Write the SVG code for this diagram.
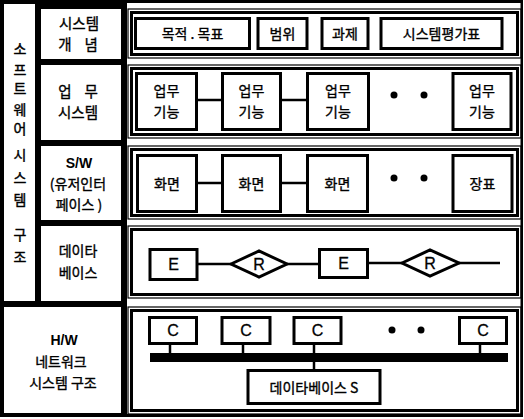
<svg xmlns="http://www.w3.org/2000/svg" width="524" height="419" viewBox="0 0 524 419">
<style>
.cell{fill:#fff}
.ob{fill:none;stroke:#000;stroke-width:1.2}
.ib{fill:none;stroke:#000;stroke-width:3}
.bx{fill:#fff;stroke:#000;stroke-width:3}
.ln{stroke:#000;stroke-width:2.5;fill:none}
.t{font-family:"Noto Sans CJK KR","Noto Sans",sans-serif;font-size:14px;fill:#000;stroke:#000;stroke-width:0.35;text-anchor:middle}
.lb{font-size:14.5px}
.v{font-family:"Noto Sans CJK KR","Noto Sans",sans-serif;font-size:14px;fill:#000;stroke:#000;stroke-width:0.4;text-anchor:middle}
.e{font-family:"Liberation Sans",Arial,sans-serif;font-size:16px;fill:#000;stroke:#000;stroke-width:0.3;text-anchor:middle}
.b{font-family:"Liberation Sans","Noto Sans CJK KR",sans-serif;font-size:14px;font-weight:bold;fill:#000;text-anchor:middle}
</style>
<rect width="524" height="419" fill="#fff"/>
<g id="frame">
<rect x="0" y="0" width="127" height="417" fill="#000"/>
<rect class="cell" x="4" y="4" width="31" height="297"/>
<rect class="cell" x="41" y="9" width="80" height="50"/>
<rect class="cell" x="41" y="65" width="80" height="75"/>
<rect class="cell" x="41" y="146" width="80" height="74"/>
<rect class="cell" x="41" y="226" width="80" height="75"/>
<rect class="cell" x="4" y="307" width="117" height="106"/>
<rect x="126" y="0" width="397" height="3" fill="#000"/>
<rect x="126" y="414" width="397" height="3" fill="#000"/>
<rect x="520.5" y="0" width="2.5" height="417" fill="#000"/>
</g>
<g id="side-label">
<text class="v" x="20" y="54">소</text>
<text class="v" x="20" y="75">프</text>
<text class="v" x="20" y="94">트</text>
<text class="v" x="20" y="115">웨</text>
<text class="v" x="20" y="134">어</text>
<text class="v" x="20" y="160">시</text>
<text class="v" x="20" y="183">스</text>
<text class="v" x="20" y="205">템</text>
<text class="v" x="20" y="240">구</text>
<text class="v" x="20" y="262">조</text>
</g>
<g id="row-labels">
<text class="t lb" x="79" y="29">시스템</text>
<text class="t lb" x="78" y="50" xml:space="preserve">개    념</text>
<text class="t lb" x="78" y="97" xml:space="preserve">업    무</text>
<text class="t lb" x="78" y="118">시스템</text>
<text class="b" x="79" y="168">S/W</text>
<text class="t" x="78" y="189">(유저인터</text>
<text class="t" x="79" y="210">페이스 )</text>
<text class="t" x="78" y="256">데이타</text>
<text class="t" x="78" y="278">베이스</text>
<text class="b" x="64" y="345">H/W</text>
<text class="t" x="61" y="367">네트워크</text>
<text class="t" x="63" y="388">시스템 구조</text>
</g>
<g id="content-frames">
<rect class="ob" x="128" y="9" width="393" height="49"/>
<rect class="ib" x="131.5" y="12.5" width="386" height="42"/>
<rect class="ob" x="128" y="65" width="393" height="73"/>
<rect class="ib" x="131.5" y="68.5" width="386" height="66"/>
<rect class="ob" x="128" y="146" width="393" height="73"/>
<rect class="ib" x="131.5" y="149.5" width="386" height="66"/>
<rect class="ob" x="128" y="226" width="393" height="72"/>
<rect class="ib" x="131.5" y="229.5" width="386" height="65"/>
<rect class="ob" x="128" y="307" width="393" height="107"/>
<rect class="ib" x="131.5" y="310.5" width="386" height="100"/>
</g>
<g id="connectors">
<line class="ln" x1="196.5" y1="100" x2="222.5" y2="100"/>
<line class="ln" x1="280.5" y1="100" x2="307.5" y2="100"/>
<line class="ln" x1="196.5" y1="183" x2="222.5" y2="183"/>
<line class="ln" x1="280.5" y1="183" x2="307.5" y2="183"/>
<line class="ln" x1="197" y1="264" x2="231" y2="264"/>
<line class="ln" x1="287" y1="264" x2="319.5" y2="264"/>
<line class="ln" x1="367.5" y1="263" x2="402" y2="263"/>
<line class="ln" x1="459" y1="263" x2="500" y2="263"/>
<line class="ln" x1="170" y1="343" x2="170" y2="354"/>
<line class="ln" x1="243" y1="343" x2="243" y2="354"/>
<line class="ln" x1="314" y1="343" x2="314" y2="371"/>
<line class="ln" x1="480" y1="343" x2="480" y2="354"/>
<rect x="150" y="353" width="358" height="9" fill="#000"/>
</g>
<g id="n-goal"><rect class="bx" x="135.5" y="18.5" width="114" height="30"/><text class="t" x="192.5" y="39">목적 . 목표</text></g>
<g id="n-scope"><rect class="bx" x="258" y="18.5" width="49" height="30"/><text class="t" x="282.5" y="39">범위</text></g>
<g id="n-task"><rect class="bx" x="322" y="18.5" width="46" height="30"/><text class="t" x="345" y="39">과제</text></g>
<g id="n-eval"><rect class="bx" x="381" y="18.5" width="121" height="30"/><text class="t" x="441.5" y="39">시스템평가표</text></g>
<g id="n-func1"><rect class="bx" x="136.5" y="73.5" width="60" height="56"/><text class="t" x="166.5" y="96">업무</text><text class="t" x="166.5" y="117">기능</text></g>
<g id="n-func2"><rect class="bx" x="222.5" y="73.5" width="58" height="56"/><text class="t" x="251.5" y="96">업무</text><text class="t" x="251.5" y="117">기능</text></g>
<g id="n-func3"><rect class="bx" x="307.5" y="73.5" width="61" height="56"/><text class="t" x="338" y="96">업무</text><text class="t" x="338" y="117">기능</text></g>
<g id="dots2"><circle cx="394" cy="95" r="3.5"/><circle cx="424" cy="95" r="3.5"/></g>
<g id="n-func4"><rect class="bx" x="453" y="73.5" width="58" height="56"/><text class="t" x="482" y="96">업무</text><text class="t" x="482" y="117">기능</text></g>
<g id="n-scr1"><rect class="bx" x="137.5" y="155.5" width="59" height="56"/><text class="t" x="167" y="189">화면</text></g>
<g id="n-scr2"><rect class="bx" x="222.5" y="155.5" width="58" height="56"/><text class="t" x="251.5" y="189">화면</text></g>
<g id="n-scr3"><rect class="bx" x="307.5" y="155.5" width="60" height="56"/><text class="t" x="337.5" y="189">화면</text></g>
<g id="dots3"><circle cx="394" cy="178" r="3.5"/><circle cx="424" cy="178" r="3.5"/></g>
<g id="n-form"><rect class="bx" x="453" y="155.5" width="59" height="56"/><text class="t" x="482.5" y="189">장표</text></g>
<g id="n-e1"><rect class="bx" x="150" y="249.5" width="47" height="30"/><text class="e" x="173.5" y="270">E</text></g>
<g id="n-r1"><polygon points="231,264 259,251 287,264 259,277" fill="#fff" stroke="#000" stroke-width="3"/><text class="e" x="259" y="270">R</text></g>
<g id="n-e2"><rect class="bx" x="319.5" y="249.5" width="48" height="28"/><text class="e" x="343.5" y="269">E</text></g>
<g id="n-r2"><polygon points="402,263 430,250 459,263 430,276" fill="#fff" stroke="#000" stroke-width="3"/><text class="e" x="430" y="269">R</text></g>
<g id="n-c1"><rect class="bx" x="149.5" y="317.5" width="47" height="26"/><text class="e" x="173" y="336">C</text></g>
<g id="n-c2"><rect class="bx" x="222" y="317.5" width="48" height="26"/><text class="e" x="246" y="336">C</text></g>
<g id="n-c3"><rect class="bx" x="294" y="317.5" width="47" height="26"/><text class="e" x="317.5" y="336">C</text></g>
<g id="dots5"><circle cx="392" cy="330" r="3.5"/><circle cx="421" cy="330" r="3.5"/></g>
<g id="n-c4"><rect class="bx" x="459.5" y="317.5" width="47" height="26"/><text class="e" x="483" y="336">C</text></g>
<g id="n-db"><rect class="bx" x="248" y="370.5" width="132" height="33"/><text class="t" x="314" y="393">데이타베이스 S</text></g>
</svg>
